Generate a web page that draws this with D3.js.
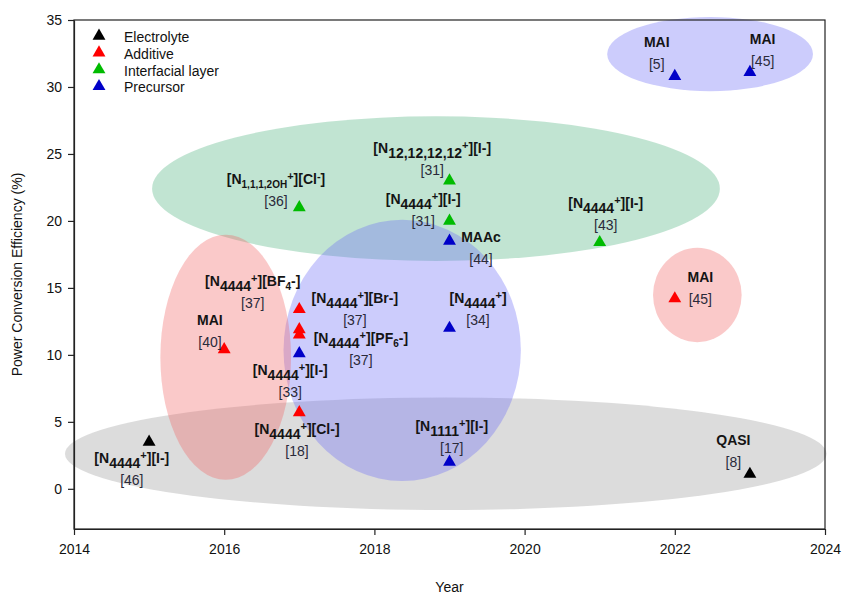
<!DOCTYPE html>
<html>
<head>
<meta charset="utf-8">
<script src="https://cdn.jsdelivr.net/npm/d3@7"></script>
<style>
  body { margin: 0; background: #fff; }
  svg { display: block; font-family: "Liberation Sans", Arial, sans-serif; }
</style>
</head>
<body>
<div id="chart"></div>
<script>
// series: year and power conversion efficiency (%)
const electrolyteYear = [2015, 2023];
const electrolytePce = [3.5, 1.1];
const additiveYear = [2016, 2017, 2017, 2017, 2017, 2022];
const additivePce = [10.4, 13.4, 11.9, 11.5, 5.7, 14.2];
const interfacialYear = [2017, 2019, 2019, 2021];
const interfacialPce = [21.0, 23.0, 20.0, 18.4];
const precursorYear = [2022, 2023, 2019, 2019, 2017, 2019];
const precursorPce = [30.8, 31.1, 18.5, 12.0, 10.1, 2.0];

const seriesNames = ["Electrolyte", "Additive", "Interfacial layer", "Precursor"];
const seriesColors = ["#000000", "#ff0000", "#00bb00", "#0000c8"];

// groupings drawn as ellipses: centre (year, pce) and radii in data units
const groupCx = [2018.95, 2018.82, 2018.37, 2016.02, 2022.3, 2022.47];
const groupCy = [2.62, 22.41, 10.34, 9.82, 14.47, 32.46];
const groupRx = [5.07, 3.78, 1.58, 0.87, 0.59, 1.37];
const groupRy = [4.2, 5.4, 9.75, 9.15, 3.52, 2.77];
const groupFill = ["rgba(168,168,168,0.4)", "rgba(117,195,155,0.45)", "rgba(110,110,245,0.35)",
                   "rgba(240,100,100,0.35)", "rgba(240,100,100,0.35)", "rgba(110,110,245,0.35)"];

// annotations: name (_{} lowered, __{} small lowered, ^{} raised), reference, anchor (year, pce)
const labelNames = ["[N__{1,1,1,2OH}^{+}][Cl^{-}]", "[N_{12,12,12,12}^{+}][I-]", "[N_{4444}^{+}][I-]", "MAAc",
  "[N_{4444}^{+}][I-]", "MAI", "MAI", "MAI", "[N_{4444}^{+}][BF__{4}-]", "MAI", "[N_{4444}^{+}][Br-]",
  "[N_{4444}^{+}][PF__{6}-]", "[N_{4444}^{+}]", "[N_{4444}^{+}][I-]", "[N_{4444}^{+}][Cl-]",
  "[N_{1111}^{+}][I-]", "[N_{4444}^{+}][I-]", "QASI"];
const labelRefs = ["[36]", "[31]", "[31]", "[44]", "[43]", "[5]", "[45]", "[45]", "[37]", "[40]", "[37]",
  "[37]", "[34]", "[33]", "[18]", "[17]", "[46]", "[8]"];
const labelYear = [2016.69, 2018.77, 2018.65, 2019.42, 2021.08, 2021.76, 2023.17, 2022.34, 2016.38, 2015.81,
  2017.74, 2017.82, 2019.38, 2016.88, 2016.97, 2019.03, 2014.77, 2022.78];
const labelPce = [22.75, 25.07, 21.26, 18.42, 20.96, 32.98, 33.21, 15.44, 15.14, 12.23,
  13.87, 10.88, 13.87, 8.5, 4.1, 4.31, 1.95, 3.27];

const xTicks = [2014, 2016, 2018, 2020, 2022, 2024];
const yTicks = [0, 5, 10, 15, 20, 25, 30, 35];

const W = 842, H = 594;
const margin = {top: 20, right: 17, bottom: 65, left: 74};

const svg = d3.select("#chart").append("svg")
    .attr("width", W)
    .attr("height", H);

const x = d3.scaleLinear().domain([2014, 2024]).range([margin.left, W - margin.right]);
const y = d3.scaleLinear().domain([-3, 35]).range([H - margin.bottom, margin.top]);

// ellipses
svg.append("g").selectAll("ellipse")
    .data(groupCx.map((c, i) => ({cx: c, cy: groupCy[i], rx: groupRx[i], ry: groupRy[i], fill: groupFill[i]})))
    .enter().append("ellipse")
    .attr("cx", d => x(d.cx))
    .attr("cy", d => y(d.cy))
    .attr("rx", d => x(d.cx + d.rx) - x(d.cx))
    .attr("ry", d => y(d.cy - d.ry) - y(d.cy))
    .attr("fill", d => d.fill);

// frame
svg.append("rect")
    .attr("x", x(2014)).attr("y", y(35))
    .attr("width", x(2024) - x(2014)).attr("height", y(-3) - y(35))
    .attr("fill", "none").attr("stroke", "#222").attr("stroke-width", 1.2);

// axes
const xAxis = svg.append("g")
    .attr("transform", "translate(0," + y(-3) + ")")
    .call(d3.axisBottom(x).tickValues(xTicks).tickFormat(d3.format("d")).tickSize(6).tickSizeOuter(0));
const yAxis = svg.append("g")
    .attr("transform", "translate(" + x(2014) + ",0)")
    .call(d3.axisLeft(y).tickValues(yTicks).tickSize(6).tickSizeOuter(0));
[xAxis, yAxis].forEach(a => {
    a.select(".domain").attr("stroke", "#222").attr("stroke-width", 1.2);
    a.selectAll(".tick line").attr("stroke", "#222").attr("stroke-width", 1.2);
    a.selectAll(".tick text").attr("font-size", 14).attr("font-family", "Liberation Sans, Arial, sans-serif").attr("fill", "#111");
});
xAxis.selectAll(".tick text").attr("dy", "1.15em");
yAxis.selectAll(".tick text").attr("x", -12);

svg.append("text")
    .attr("x", (x(2014) + x(2024)) / 2).attr("y", 592)
    .attr("text-anchor", "middle").attr("font-size", 14).attr("fill", "#111")
    .text("Year");
svg.append("text")
    .attr("transform", "translate(22," + ((y(35) + y(-3)) / 2) + ") rotate(-90)")
    .attr("text-anchor", "middle").attr("font-size", 14).attr("fill", "#111")
    .text("Power Conversion Efficiency (%)");

// points
const series = [
    [electrolyteYear, electrolytePce],
    [additiveYear, additivePce],
    [interfacialYear, interfacialPce],
    [precursorYear, precursorPce]
];
const tri = d3.symbol().type(d3.symbolTriangle).size(72);
series.forEach(([ys, ps], i) => {
    svg.append("g").selectAll("path")
        .data(ys.map((yr, j) => ({year: yr, pce: ps[j]})))
        .enter().append("path")
        .attr("d", tri)
        .attr("transform", d => "translate(" + x(d.year) + "," + y(d.pce) + ")")
        .attr("fill", seriesColors[i]);
});

// rich text for labels
function richText(sel, str) {
    const parts = str.split(/(__\{[^}]*\}|_\{[^}]*\}|\^\{[^}]*\})/).filter(p => p.length);
    let cur = 0;
    parts.forEach(p => {
        let shift = 0, size = 14, txt = p;
        if (p.startsWith("__{")) { shift = 4; size = 10; txt = p.slice(3, -1); }
        else if (p.startsWith("_{")) { shift = 5; size = 14; txt = p.slice(2, -1); }
        else if (p.startsWith("^{")) { shift = -4; size = 11; txt = p.slice(2, -1); }
        sel.append("tspan")
            .attr("dy", shift - cur)
            .attr("font-size", size)
            .text(txt);
        cur = shift;
    });
}

const labels = svg.append("g");
labelNames.forEach((name, i) => {
    const t = labels.append("text")
        .attr("x", x(labelYear[i]))
        .attr("y", y(labelPce[i]))
        .attr("text-anchor", "middle")
        .attr("font-weight", "bold")
        .attr("font-size", 14)
        .attr("fill", "#141414");
    richText(t, name);
    labels.append("text")
        .attr("x", x(labelYear[i]))
        .attr("y", y(labelPce[i]) + 22)
        .attr("text-anchor", "middle")
        .attr("font-size", 14)
        .attr("fill", "#2a2a3a")
        .text(labelRefs[i]);
});

// legend
const legend = svg.append("g").attr("transform", "translate(99,37)");
seriesNames.forEach((name, i) => {
    const row = legend.append("g").attr("transform", "translate(0," + (i * 16.8) + ")");
    row.append("path").attr("d", tri).attr("fill", seriesColors[i]).attr("transform", "translate(0,-1)");
    row.append("text")
        .attr("x", 25).attr("y", 5)
        .attr("font-size", 14).attr("fill", "#111")
        .text(name);
});
</script>
</body>
</html>
